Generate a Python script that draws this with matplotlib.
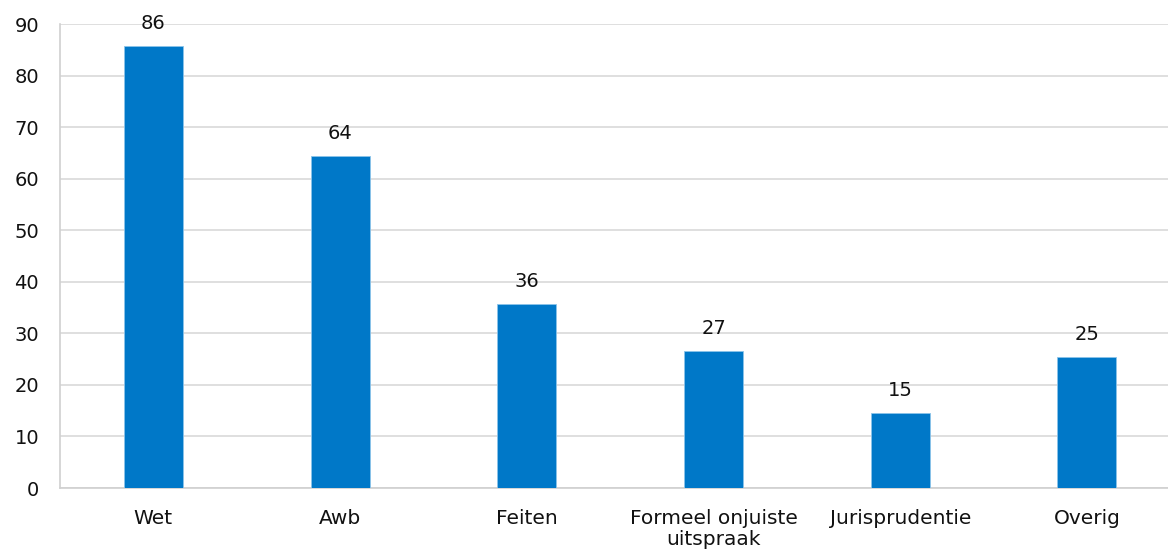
import matplotlib
matplotlib.use("Agg")
import matplotlib.pyplot as plt

categories = ["Wet", "Awb", "Feiten", "Formeel onjuiste\nuitspraak", "Jurisprudentie", "Overig"]
values = [85.7, 64.4, 35.7, 26.6, 14.5, 25.4]
labels = ["86", "64", "36", "27", "15", "25"]
yticks = [0, 10, 20, 30, 40, 50, 60, 70, 80, 90]

plt.rcParams['font.family'] = ['DejaVu Sans']
fig = plt.figure(figsize=(11.68, 5.52), dpi=100)
ax = fig.add_axes([60/1168, 1-488/552, 1108/1168, 464/552])

x = list(range(len(categories)))
bars = ax.bar(x, values, width=0.316, color="#0078C8", edgecolor="#8CC4EA", linewidth=0.6, zorder=3)
for xi, v, lab in zip(x, values, labels):
    ax.annotate(lab, (xi, v), xytext=(0, 9.5), textcoords="offset points",
                ha="center", va="bottom", fontsize=14, color="#111111")

ax.set_xlim(-0.5, 5.434)
ax.set_ylim(0, 90)
ax.set_yticks(yticks)
ax.set_xticks(x)
ax.set_xticklabels(categories, fontsize=14.5, color="#111111", linespacing=1.15)
ax.tick_params(axis="y", length=0, pad=15, labelsize=14, labelcolor="#111111")
ax.tick_params(axis="x", length=0, pad=15)
ax.grid(axis="y", color="#D9D9D9", linewidth=1.2, zorder=0)
for s in ["top", "right"]:
    ax.spines[s].set_visible(False)
for s in ["left", "bottom"]:
    ax.spines[s].set_color("#D0D0D0")
    ax.spines[s].set_linewidth(1.2)

fig.savefig("out.png", dpi=100)
